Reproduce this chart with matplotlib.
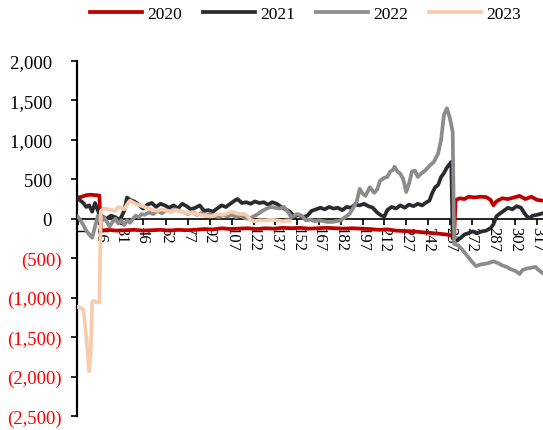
import matplotlib
matplotlib.use('Agg')
import matplotlib.pyplot as plt

plt.rcParams['font.family'] = ['Liberation Serif', 'DejaVu Serif']

# (category, value)
s2020 = [(1, 270), (4, 280), (7, 300), (10, 305), (13, 300), (16, 295), (17, -150), (22, -140), (28, -150),
         (34, -145), (40, -140), (46, -150), (52, -145), (58, -140), (64, -150), (70, -140), (76, -145),
         (82, -140), (88, -130), (94, -135), (100, -120), (106, -130), (112, -125), (118, -120), (124, -130),
         (130, -120), (136, -125), (142, -115), (148, -120), (154, -115), (160, -125), (166, -120),
         (172, -115), (178, -120), (184, -125), (190, -120), (196, -125), (202, -130), (208, -140),
         (214, -135), (220, -150), (226, -155), (232, -160), (238, -170), (244, -180), (250, -190),
         (255, -200), (260, -220), (261, 240), (264, 260), (267, 250), (270, 280), (274, 270), (278, 280),
         (282, 275), (285, 240), (287, 170), (289, 220), (293, 260), (297, 250), (301, 270), (305, 290),
         (309, 250), (313, 280), (317, 240), (321, 230)]

s2021 = [(1, 260), (3, 230), (5, 200), (7, 150), (9, 170), (11, 90), (13, 200), (14, 150), (16, 60),
         (18, 30), (21, 0), (24, 40), (27, 20), (30, -20), (33, 100), (35, 270), (37, 240), (40, 220),
         (43, 180), (46, 130), (49, 180), (52, 200), (55, 150), (58, 190), (61, 170), (64, 140), (67, 170),
         (70, 130), (73, 190), (76, 160), (79, 120), (82, 140), (85, 170), (88, 100), (91, 110), (94, 90),
         (97, 130), (100, 170), (103, 150), (106, 190), (109, 230), (111, 250), (114, 200), (117, 210),
         (120, 190), (123, 220), (126, 200), (129, 210), (132, 180), (135, 210), (138, 190), (141, 150),
         (144, 120), (147, 90), (150, 30), (153, 50), (156, 20), (159, 40), (162, 100), (165, 120),
         (168, 140), (171, 120), (174, 150), (177, 130), (180, 140), (183, 110), (186, 150), (189, 140),
         (192, 180), (195, 170), (198, 190), (201, 160), (204, 140), (207, 80), (210, 40), (212, 30),
         (214, 110), (217, 150), (220, 130), (223, 170), (226, 140), (229, 180), (232, 160), (235, 190),
         (238, 170), (241, 210), (243, 230), (245, 330), (247, 400), (249, 430), (251, 530), (253, 580),
         (255, 650), (258, 720), (259, -250), (261, -280), (264, -250), (267, -200), (270, -180),
         (273, -160), (276, -180), (279, -160), (282, -150), (285, -120), (287, -70), (289, 30), (291, 60),
         (294, 100), (297, 140), (300, 120), (303, 160), (306, 140), (308, 80), (310, 30), (312, 10),
         (314, 40), (317, 50), (321, 70)]

s2022 = [(1, 30), (3, -20), (5, -80), (7, -150), (9, -200), (11, -240), (13, -100), (15, 40), (17, -50),
         (19, 20), (21, -30), (23, -100), (25, -40), (27, 0), (29, -60), (31, -20), (33, -80), (35, -20),
         (37, -50), (39, 0), (41, 40), (43, 20), (45, 60), (47, 50), (50, 80), (53, 60), (56, 100),
         (59, 70), (62, 110), (65, 90), (68, 120), (71, 100), (74, 80), (77, 60), (80, 90), (83, 50),
         (86, 70), (89, 40), (92, 60), (95, 40), (98, 20), (101, 50), (104, 30), (107, 50), (110, 20),
         (113, 40), (116, 10), (119, 0), (122, 30), (125, 60), (128, 100), (131, 130), (134, 150),
         (137, 140), (140, 130), (143, 150), (146, 80), (148, 20), (150, 40), (152, 60), (155, 40),
         (158, -20), (161, -10), (164, -30), (167, -20), (170, -30), (173, -40), (176, -40), (179, -30),
         (182, -20), (185, 20), (188, 60), (191, 150), (193, 220), (195, 380), (197, 320), (199, 290),
         (202, 400), (205, 330), (207, 370), (209, 480), (212, 520), (214, 530), (216, 600), (218, 620),
         (219, 660), (221, 600), (223, 570), (225, 500), (227, 340), (229, 450), (231, 600), (233, 610),
         (235, 530), (237, 570), (240, 610), (243, 670), (246, 720), (249, 830), (251, 1000), (253, 1320),
         (255, 1400), (257, 1280), (259, 1100), (260, -320), (263, -340), (266, -400), (269, -470),
         (272, -540), (275, -600), (278, -580), (281, -570), (284, -560), (287, -540), (290, -560),
         (293, -590), (296, -610), (299, -640), (302, -660), (305, -700), (307, -650), (310, -630),
         (313, -620), (316, -610), (318, -650), (321, -690)]

s2023 = [(1, -1120), (3, -1130), (5, -1150), (7, -1500), (9, -1930), (10, -1700), (11, -1050), (12, -1040),
         (14, -1060), (16, -1060), (17, 100), (19, 130), (22, 120), (25, 110), (27, 100), (29, 150),
         (31, 140), (33, 120), (35, 180), (37, 230), (39, 210), (41, 190), (44, 170), (47, 150), (50, 130),
         (53, 110), (56, 100), (59, 120), (62, 100), (65, 90), (68, 110), (71, 100), (74, 80), (77, 70),
         (80, 80), (83, 60), (86, 50), (89, 40), (92, 30), (95, 40), (98, 60), (101, 50), (104, 70),
         (107, 90), (110, 70), (113, 60), (116, 60), (118, 30), (120, -20), (123, -30), (126, -20),
         (130, -20), (134, -10), (138, -20), (142, -30), (146, -20), (147, -25)]

series_names = ['2020', '2021', '2022', '2023']
series_colors = ['#C00000', '#2B2B2F', '#8C8C8C', '#F8CBAD']
x_labels = [1, 16, 31, 46, 62, 77, 92, 107, 122, 137, 152, 167, 182, 197, 212, 227, 242, 257, 272, 287, 302, 317]
y_ticks = [-2500, -2000, -1500, -1000, -500, 0, 500, 1000, 1500, 2000]

fig = plt.figure(figsize=(5.43, 4.31), dpi=100)
ax = fig.add_axes([0.1418, 0.0325, 0.8582, 0.8236])

for data, name, col in zip([s2020, s2021, s2022, s2023], series_names, series_colors):
    xs = [p[0] for p in data]
    ys = [p[1] for p in data]
    ax.plot(xs, ys, color=col, lw=2.7, label=name, zorder=3, solid_joinstyle='round')

ax.set_ylim(-2500, 2000)
ax.set_xlim(0.6, 321.1)

def fmt(v):
    if v < 0:
        return '({:,})'.format(-v)
    return '{:,}'.format(v) + '  '

ax.set_yticks(y_ticks)
ax.set_yticklabels([fmt(v) for v in y_ticks])
for lab, v in zip(ax.get_yticklabels(), y_ticks):
    lab.set_color('#FF0000' if v < 0 else 'black')
ax.tick_params(axis='y', direction='out', length=4, width=1.2, labelsize=13.5, pad=7)

ax.set_xticks(x_labels)
ax.set_xticklabels([str(v) for v in x_labels])
ax.tick_params(axis='x', direction='out', length=4, width=1.2, labelsize=12, pad=1, labelrotation=270)
for lab in ax.get_xticklabels():
    lab.set_verticalalignment('top')
    lab.set_horizontalalignment('center')
    lab.set_rotation_mode('default')

ax.spines['top'].set_visible(False)
ax.spines['right'].set_visible(False)
ax.spines['bottom'].set_position(('data', 0))
ax.spines['bottom'].set_linewidth(1.2)
ax.spines['left'].set_linewidth(1.6)

fig.legend(loc='center', bbox_to_anchor=(0.562, 0.965), ncol=4, frameon=False, fontsize=12.5,
           handlelength=3.0, handletextpad=0.3, columnspacing=1.2)

fig.savefig('out.png', dpi=100)
